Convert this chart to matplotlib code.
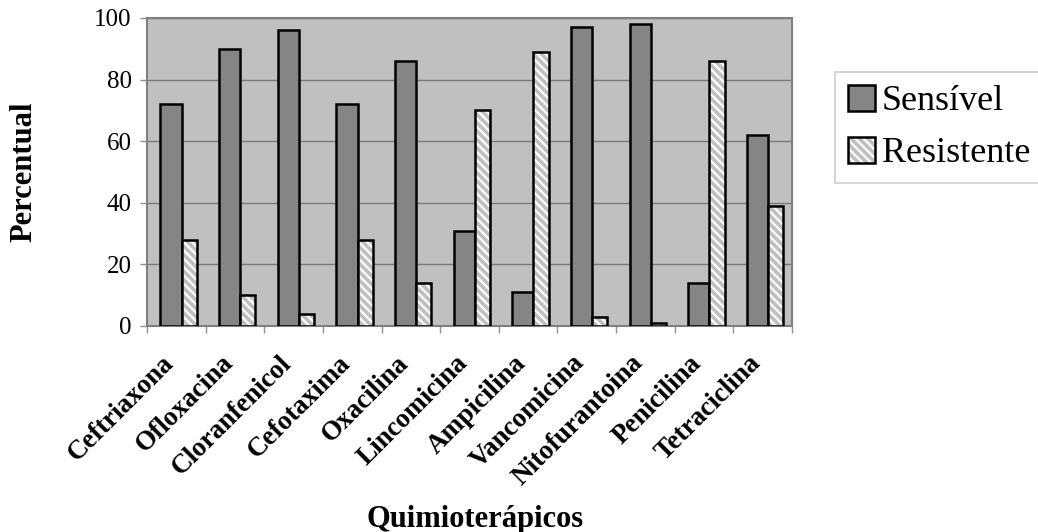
import matplotlib
matplotlib.use("Agg")
import matplotlib.pyplot as plt
import matplotlib.transforms as mtransforms
import numpy as np
from matplotlib.legend_handler import HandlerTuple

drugs = ["Ceftriaxona", "Ofloxacina", "Cloranfenicol", "Cefotaxima", "Oxacilina",
         "Lincomicina", "Ampicilina", "Vancomicina", "Nitofurantoina", "Penicilina",
         "Tetraciclina"]
sensivel = [72, 90, 96, 72, 86, 31, 11, 97, 98, 14, 62]
resistente = [28, 10, 4, 28, 14, 70, 89, 3, 1, 86, 39]
yticks = [0, 20, 40, 60, 80, 100]

plt.rcParams['font.family'] = ['Liberation Serif', 'DejaVu Serif']
plt.rcParams['hatch.linewidth'] = 1.6

fig = plt.figure(figsize=(10.38, 5.32), dpi=100)
ax = fig.add_axes([147/1038, 1 - 326/532, (792 - 147)/1038, (326 - 18)/532])
ax.set_facecolor('#c0c0c0')

x = np.arange(len(drugs))
s_bars = ax.bar(x - 0.09, sensivel, width=0.36, color='#858585',
                edgecolor='black', linewidth=1.8, zorder=3)
r_hatch = ax.bar(x + 0.22, resistente, width=0.26, color='#c0c0c0',
                 edgecolor='white', hatch='\\\\\\\\', linewidth=0, zorder=3)
r_edge = ax.bar(x + 0.22, resistente, width=0.26, color='none',
                edgecolor='black', linewidth=1.8, zorder=4)

ax.set_xlim(-0.5, len(drugs) - 0.5)
ax.set_ylim(0, 100)
ax.set_yticks(yticks)
ax.yaxis.grid(True, color='#7a7a7a', linewidth=1.0, zorder=0)
ax.set_axisbelow(True)

ax.set_xticks(np.arange(len(drugs) + 1) - 0.5)
ax.set_xticklabels([])
ax.set_xticks(x, minor=True)
ax.set_xticklabels(drugs, minor=True, rotation=45, ha='right', va='center',
                   rotation_mode='anchor', fontsize=19.5, fontweight='bold')
ax.tick_params(axis='x', which='minor', length=0, pad=24)
ax.tick_params(axis='x', which='major', length=5, color='#909090', width=1)
ax.tick_params(axis='y', length=5, color='#909090', width=1, pad=6, labelsize=18)

shift = mtransforms.ScaledTranslation(-6/100, 0, fig.dpi_scale_trans)
for lab in ax.get_xticklabels(minor=True):
    lab.set_transform(lab.get_transform() + shift)

for side in ['top', 'right', 'bottom', 'left']:
    ax.spines[side].set_color('#808080')
    ax.spines[side].set_linewidth(1.5)

fig.text(24/1038, 1 - 172/532, 'Percentual', rotation=90, ha='center', va='center',
         fontsize=22, fontweight='bold')
fig.text(475/1038, 1 - 527/532, 'Quimioterápicos', ha='center', va='baseline',
         fontsize=22, fontweight='bold')

leg = fig.legend([s_bars, (r_hatch, r_edge)], ['Sensível', 'Resistente'],
                 handler_map={tuple: HandlerTuple(ndivide=1)},
                 loc='upper left', bbox_to_anchor=(835/1038, 1 - 72/532),
                 fontsize=26, frameon=True, fancybox=False, handlelength=0.75,
                 handleheight=0.75, handletextpad=0.2, labelspacing=0.5,
                 borderpad=0.35, borderaxespad=0)
leg.get_frame().set_edgecolor('#c0c0c0')
leg.get_frame().set_linewidth(1.2)

fig.savefig('out.png', dpi=100)
